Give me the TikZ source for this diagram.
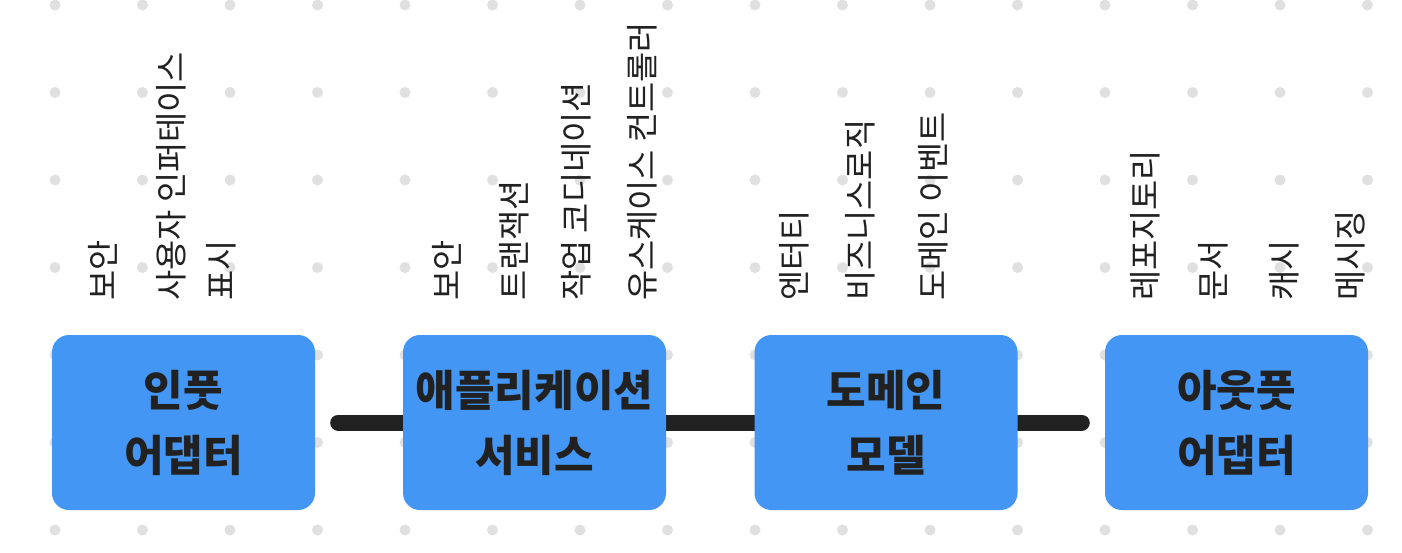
\documentclass[tikz,border=0pt]{standalone}
\usepackage{fontspec}
\newfontfamily\kr{Noto Sans CJK KR}
\usetikzlibrary{backgrounds}
\definecolor{boxblue}{HTML}{4496F4}
\definecolor{dotgray}{HTML}{E0E0E0}
\definecolor{ink}{HTML}{212121}
\tikzset{
  layerbox/.style={draw=none, fill=boxblue, rounded corners=17pt, minimum width=263pt, minimum height=175pt, inner sep=0pt, align=center, text=ink, font=\kr\bfseries\fontsize{43}{65}\selectfont},
  lab/.style={rotate=90, anchor=west, inner sep=0pt, text=ink, font=\kr\fontsize{32.8}{36}\selectfont},
  conn/.style={draw=ink, line width=16pt, line cap=round},
  gdot/.style={fill=dotgray, draw=none}
}
\begin{document}
\begin{tikzpicture}[x=1pt,y=-1pt]
\useasboundingbox (0,0) rectangle (1402,552);
% boxes
\node[layerbox] (b1) at (183.5,422.5) {인풋\\어댑터};
\node[layerbox] (b2) at (534.5,422.5) {애플리케이션\\서비스};
\node[layerbox] (b3) at (886,422.5) {도메인\\모델};
\node[layerbox] (b4) at (1236.5,422.5) {아웃풋\\어댑터};
% labels
\node[lab] (l11) at (103,301) {보안};
\node[lab] (l12) at (171,301) {사용자 인퍼테이스};
\node[lab] (l13) at (221,301) {표시};
\node[lab] (l21) at (447,301) {보안};
\node[lab] (l22) at (514,301) {트랜잭션};
\node[lab] (l23) at (576,301) {작업 코디네이션};
\node[lab] (l24) at (642,301) {유스케이스 컨트롤러};
\node[lab] (l31) at (794,301) {엔터티};
\node[lab] (l32) at (860,301) {비즈니스로직};
\node[lab] (l33) at (933,301) {도메인 이벤트};
\node[lab] (l41) at (1145,301) {레포지토리};
\node[lab] (l42) at (1213,301) {문서};
\node[lab] (l43) at (1284,301) {캐시};
\node[lab] (l44) at (1350,301) {메시징};
\begin{pgfonlayer}{background}
  \fill[white] (0,0) rectangle (1402,552);
  \foreach \i in {0,...,15} {
    \foreach \j in {0,...,6} {
      \fill[gdot] (55+87.5*\i, 5+87.5*\j) circle (5.5);
    }
  }
  \draw[conn, shorten <=23pt] (b1) -- (b2);
  \draw[conn] (b2) -- (b3);
  \draw[conn, shorten >=23pt] (b3) -- (b4);
\end{pgfonlayer}
\end{tikzpicture}
\end{document}
